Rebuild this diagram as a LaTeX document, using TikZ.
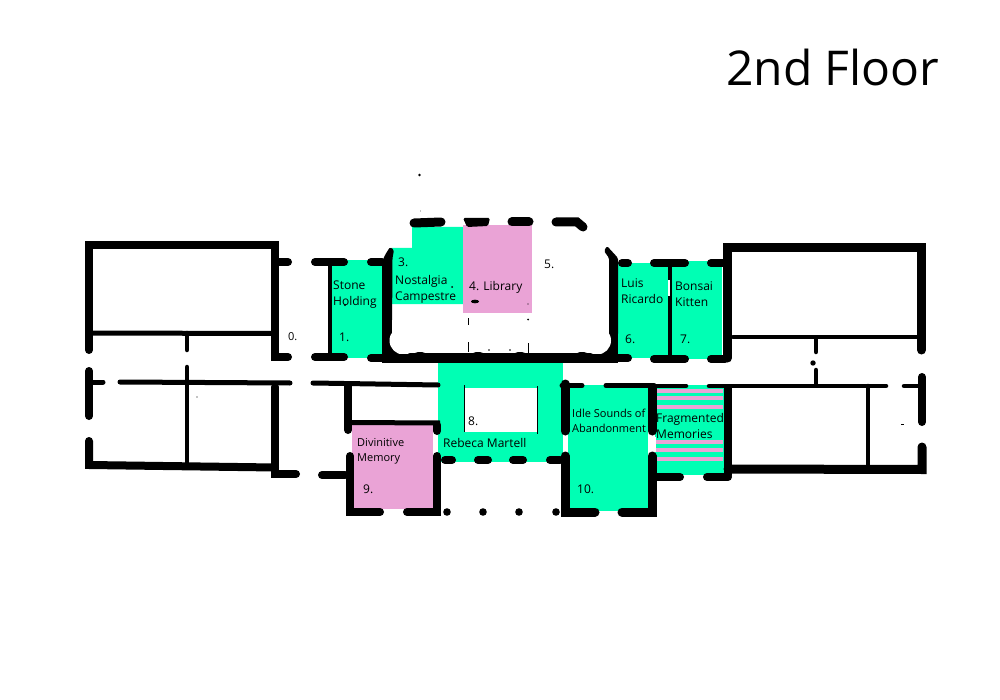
\documentclass[tikz,border=0pt]{standalone}
\usepackage{fontspec}
\setmainfont{Open Sans}
\definecolor{roomgreen}{HTML}{00FFB4}
\definecolor{roompink}{HTML}{EAA3D6}
\tikzset{
  wall/.style={line width=8pt,line cap=round,line join=miter,black},
  thickwall/.style={line width=9pt,line cap=round,line join=miter,black},
  thinwall/.style={line width=4.5pt,line cap=round,line join=miter,black},
  hair/.style={line width=1pt,black},
  green room/.style={fill=roomgreen,draw=none},
  pink room/.style={fill=roompink,draw=none},
  stripe/.style={line width=4pt,roompink},
  lab/.style={anchor=west,inner sep=0pt,align=left,font=\fontsize{12}{16}\selectfont},
  labs/.style={anchor=west,inner sep=0pt,align=left,font=\fontsize{11}{15}\selectfont},
  blob/.style={fill=black,draw=none}
}
\begin{document}
\begin{tikzpicture}[x=1pt,y=-1pt]
\useasboundingbox (0,0) rectangle (1000,700);
% rooms
\fill[green room] (331,260) rectangle (382,358);
\fill[green room] (392,248) -- (412,248) -- (412,227) -- (463,227) -- (463,304) -- (392,304) -- cycle;
\fill[pink room] (463,225) rectangle (532,313);
\fill[green room] (618,263) rectangle (668,358);
\fill[green room] (671,261) rectangle (722,359);
\fill[green room] (438,360) rectangle (563,462);
\fill[white] (464,388) rectangle (537,432);
\fill[pink room] (352,425) rectangle (433,509);
\fill[green room] (568,385) rectangle (648,511);
\fill[green room] (655,385) rectangle (724,475);
\foreach \sy in {391,398,407,442,450,459}{\draw[stripe] (654,\sy) -- (723,\sy);}
% left block
\draw[wall] (89,350) -- (89,245) -- (274.5,245) -- (274.5,357) -- (288,357);
\draw[wall] (279,262) -- (288,262);
\draw[line width=5pt,line cap=round] (93,333) -- (272,333.5);
\draw[thinwall] (187,333) -- (187,350);
\draw[wall] (315,262) -- (344,262);
\draw[wall] (315,357) -- (344,357);
\draw[line width=3.5pt] (330,262) -- (330,357);
\draw[wall] (371,262) -- (382,262);
% central bay
\fill[black,rounded corners=1.5pt] (382,335) -- (382,262) -- (385,255) -- (390,247) -- (394,250) -- (392.5,258) -- (392,335) -- cycle;
\fill[black,rounded corners=1.5pt] (618,335) -- (618,258) -- (607,246) -- (604,251) -- (609,258) -- (609,335) -- cycle;
\fill[black] (382,330) rectangle (618,362.5);
\fill[white] (403,320) rectangle (597,353);
\fill[white] (392,320) rectangle (609,340);
\fill[white] (403.5,340.5) circle (14);
\fill[white] (597,340.5) circle (14);
\draw[wall] (371,358) -- (628,358);
\foreach \bx in {420,478,520,582}{\fill[blob] (\bx,354.5) ellipse (6 and 2.5);}
\draw[wall] (622,263) -- (628,263);
\draw[wall] (654,263) -- (685,263);
\draw[line width=3.5pt] (670,263) -- (670,357);
\draw[white,line width=1.5pt] (669.2,280) -- (669.2,296);
\draw[wall] (711,263) -- (725,263);
\draw[wall] (654,359) -- (685,359);
\draw[wall] (711,359) -- (725,359);
% top of bay
\draw[thickwall] (414,223) -- (441,222);
\fill[black,rounded corners=1.5pt] (463,218) -- (490,218) -- (488,226) -- (467,227) -- cycle;
\draw[thickwall] (512,222) -- (529,222);
\draw[thickwall] (556,222) -- (577,222) -- (583,227);
% right block
\draw[thickwall] (921.5,350) -- (921.5,247.5) -- (727.5,247.5) -- (727.5,358);
\draw[thinwall] (733,337) -- (917,337);
\draw[thinwall] (816,338) -- (816,352);
\fill[blob] (813,363) circle (2.7);
\draw[thinwall] (816,370) -- (816,384);
\draw[line width=4.5pt,line cap=round] (654,386) -- (686,386);
\draw[line width=4.5pt,line cap=round] (709,386) -- (886,386);
\draw[line width=4.5pt,line cap=round] (904,386) -- (918,386);
\draw[wall] (922,377) -- (922,422);
\draw[thickwall] (922,447) -- (922,469.5) -- (728,469);
\draw[wall] (727.5,388) -- (727.5,475);
\draw[thinwall] (868,386) -- (868,466);
\draw[wall] (654,477) -- (680,477);
\draw[wall] (707,477) -- (728,477);
\draw[white,line width=3pt] (654.5,437) -- (654.5,452);
\draw[line width=0.8pt] (901,424) -- (904,424);
% left lower block
\draw[wall] (89,371) -- (89,416);
\draw[wall] (89,441) -- (89,465) -- (275,467.5);
\draw[wall] (275,387) -- (275,474) -- (296,474);
\draw[line width=5pt,line cap=round] (90,382) -- (103,382);
\draw[line width=5pt,line cap=round] (120,382) -- (290,383);
\draw[thinwall] (187,367) -- (187,466);
\fill[blob] (197,397) circle (0.6);
\draw[wall] (322,475) -- (345,475);
\draw[line width=5pt,line cap=round] (313,383) -- (438,385);
\draw[wall] (348,385) -- (348,430);
\draw[line width=5pt,line cap=butt] (350,422.5) -- (440,423);
\draw[wall] (437,425) -- (437,431);
\draw[wall,line join=miter] (350,456) -- (350,512) -- (380,512);
\draw[wall,line join=miter] (437,456) -- (437,512) -- (407,512);
\draw[wall] (445,460) -- (452,460);
\draw[wall] (478,460) -- (488,460);
\draw[wall] (513,460) -- (523,460);
\draw[wall] (550,460) -- (560,460);
\foreach \dx in {447,483,519}{\fill[blob] (\dx,512) circle (3.8);}
\fill[blob] (556,512) circle (3.8);
% room 8 hole
\draw[line width=1pt] (464,385) -- (464,432);
\draw[line width=1pt] (537,386) -- (537,434);
% room 10
\draw[line width=5pt,line cap=round] (562,385.5) -- (582,385.5);
\draw[thickwall] (565,384) -- (565,431);
\draw[thickwall] (565,456) -- (565,512) -- (595,512);
\draw[line width=5pt,line cap=round] (606,385.5) -- (654,385.5);
\draw[thickwall] (652,388) -- (652,431);
\draw[thickwall] (652,456) -- (652,512) -- (622,512);
% stray marks
\fill[blob] (419.5,175) circle (1.4);
\fill[blob] (420.5,211) circle (0.4);
\fill[blob] (475,301.5) ellipse (4 and 1.8);
\fill[blob] (452,287) circle (1);
\fill[blob] (345,305) circle (1.2);
\fill[blob] (528,304) circle (0.6);
\draw[hair] (468,318) -- (468,325);
\fill[blob] (528,319.5) circle (1);
\draw[line width=0.6pt] (468,342) -- (468,352);
\draw[hair] (528,343) -- (528,354);
\fill[blob] (489,350) circle (0.8);
\fill[blob] (510,350) circle (0.8);
% labels
\node[anchor=west,inner sep=0pt,font=\fontsize{48}{56}\selectfont] (title) at (726,68) {2nd Floor};
\node[labs] (l0) at (288,337) {0.};
\node[lab] (l1n) at (339,337.5) {1.};
\node[lab] (l1) at (333,294.5) {Stone\\Holding};
\node[lab] (l3n) at (398,262) {3.};
\node[lab] (l3) at (395,289) {Nostalgia\\Campestre};
\node[lab] (l4) at (469,287) {4. Library};
\node[lab] (l5) at (544,264) {5.};
\node[lab] (l6) at (621,291) {Luis\\Ricardo};
\node[lab] (l6n) at (625,339) {6.};
\node[lab] (l7) at (675,294) {Bonsai\\Kitten};
\node[lab] (l7n) at (680,339) {7.};
\node[lab] (l8n) at (468,421) {8.};
\node[lab] (l8) at (443,443) {Rebeca Martell};
\node[labs] (l9) at (357,451) {Divinitive\\Memory};
\node[lab] (l9n) at (363,489) {9.};
\node[labs] (l10) at (572,421) {Idle Sounds of\\Abandonment};
\node[lab] (l10n) at (577,489) {10.};
\node[lab] (l11) at (656,426) {Fragmented\\Memories};
\end{tikzpicture}
\end{document}
